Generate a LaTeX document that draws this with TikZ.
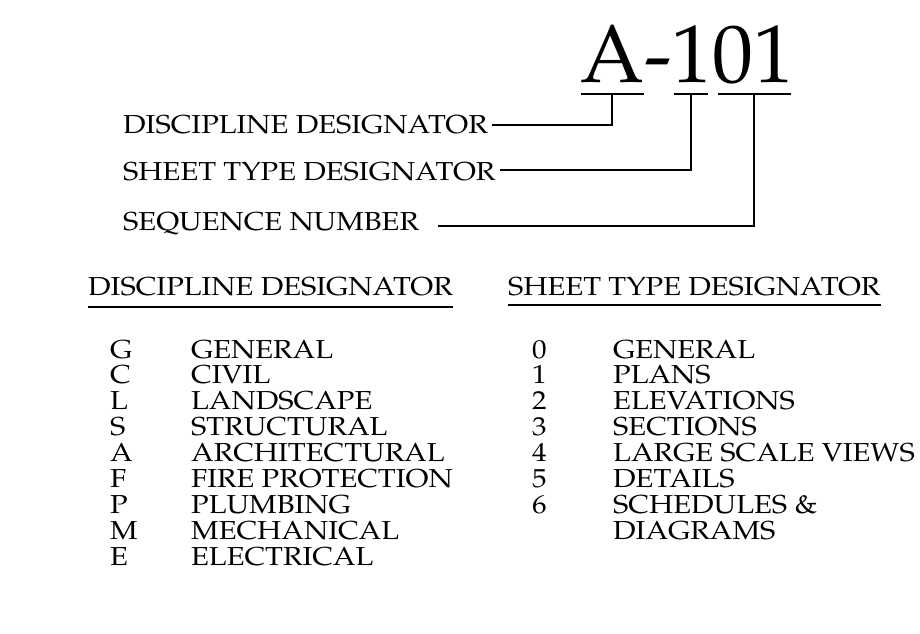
\documentclass[tikz,border=0pt]{standalone}
\usepackage[T1]{fontenc}
\usepackage{mathpazo}
\usepackage{graphicx}
\usetikzlibrary{positioning,calc}
\newcommand{\wtxt}[1]{\scalebox{1.12}[1]{#1}}

\begin{document}
\begin{tikzpicture}[
  x=1pt, y=-1pt,
  font=\fontsize{26}{30}\selectfont,
  big/.style  = {font=\fontsize{82}{90}\selectfont, inner sep=0pt, anchor=base west},
  lab/.style  = {inner sep=0pt, anchor=base west},
  item/.style = {inner sep=0pt, anchor=base west},
  ln/.style   = {line width=1.4pt},
  ul/.style   = {line width=1.6pt}
]
\useasboundingbox (0,0) rectangle (920,633);

% --- Codigo de hoja -----------------------------------------------------------
\node[big] (code) at (580,82) {A-101};
\coordinate (uA0) at (581,94);  \coordinate (uA1) at (644,94);
\coordinate (uT0) at (674,94);  \coordinate (uT1) at (708,94);
\coordinate (uS0) at (718,94);  \coordinate (uS1) at (791,94);
\draw[ul] (uA0) -- (uA1);
\draw[ul] (uT0) -- (uT1);
\draw[ul] (uS0) -- (uS1);
\coordinate (uA) at (612,94);
\coordinate (uT) at (691,94);
\coordinate (uS) at (754,94);

% --- Rotulos con lineas -------------------------------------------------------
\node[lab] (disc) at (123,133) {\wtxt{DISCIPLINE DESIGNATOR}};
\node[lab] (type) at (123,180) {\wtxt{SHEET TYPE DESIGNATOR}};
\node[lab] (seq)  at (123,230) {\wtxt{SEQUENCE NUMBER}};

\draw[ln] ([xshift=4pt,yshift=8pt]disc.base east) -| (uA);
\draw[ln] ([xshift=4pt,yshift=10pt]type.base east) -| (uT);
\draw[ln] ([xshift=19pt,yshift=4pt]seq.base east) -| (uS);

% --- Tablas -------------------------------------------------------------------
\node[lab] (hdDisc) at (88,295)  {\wtxt{DISCIPLINE DESIGNATOR}};
\node[lab] (hdType) at (508,295) {\wtxt{SHEET TYPE DESIGNATOR}};
\draw[ul] ([yshift=-12pt]hdDisc.base west) -- ([yshift=-12pt]hdDisc.base east);
\draw[ul] ([yshift=-10pt]hdType.base west) -- ([yshift=-10pt]hdType.base east);

\foreach \k/\w [count=\i from 0] in {G/GENERAL, C/CIVIL, L/LANDSCAPE,
    S/STRUCTURAL, A/ARCHITECTURAL, F/FIRE PROTECTION, P/PLUMBING,
    M/MECHANICAL, E/ELECTRICAL} {
  \node[item] (dk\i) at (110,358+25.9*\i) {\wtxt{\k}};
  \node[item] (dw\i) at (191,358+25.9*\i) {\wtxt{\w}};
}

\foreach \k/\w [count=\i from 0] in {0/GENERAL, 1/PLANS, 2/ELEVATIONS,
    3/SECTIONS, 4/LARGE SCALE VIEWS, 5/DETAILS, 6/SCHEDULES \&} {
  \node[item] (tk\i) at (532,358+25.9*\i) {\wtxt{\k}};
  \node[item] (tw\i) at (613,358+25.9*\i) {\wtxt{\w}};
}
\node[item] (tw7) at (613,358+25.9*7) {\wtxt{DIAGRAMS}};

\end{tikzpicture}
\end{document}
